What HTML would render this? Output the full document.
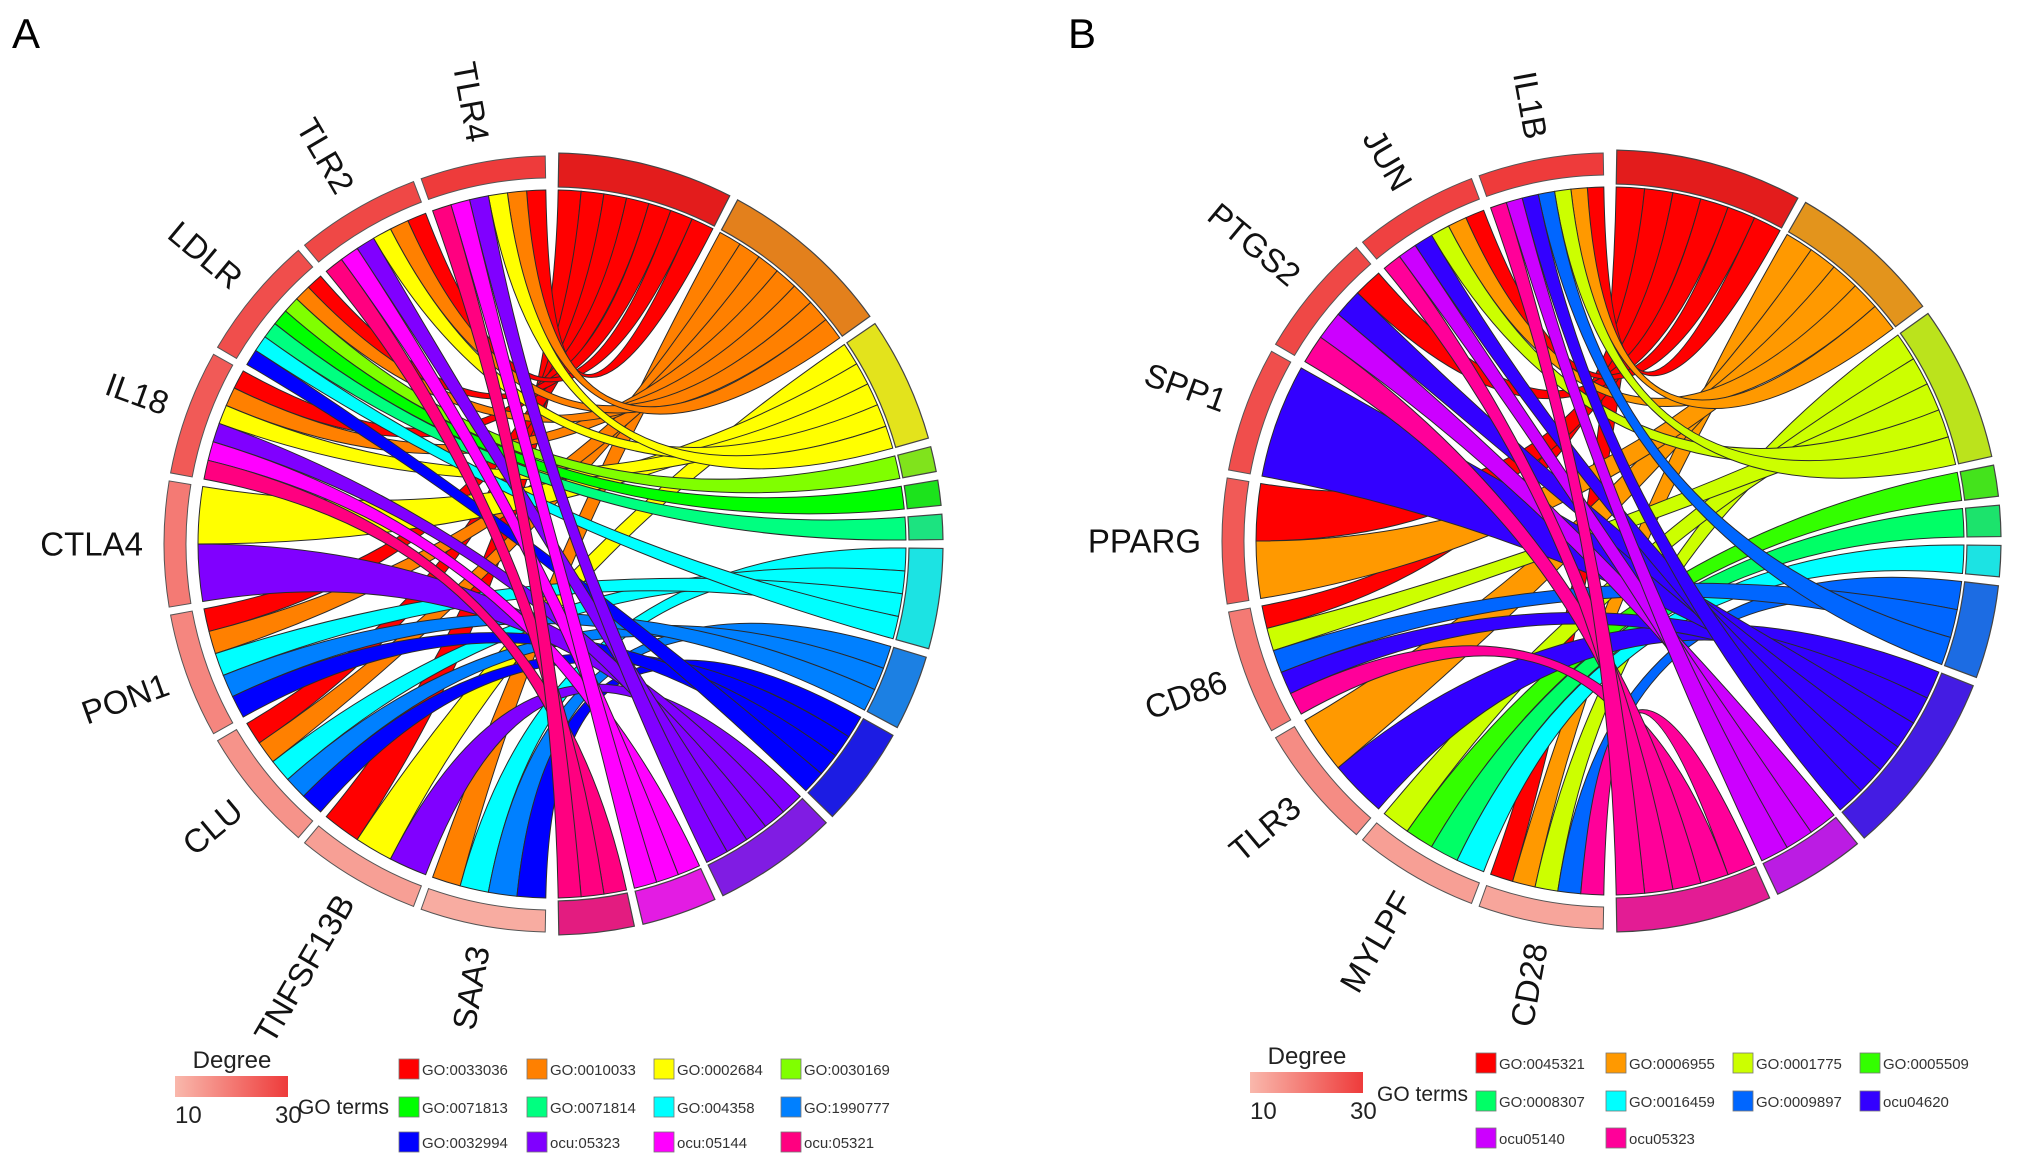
<!DOCTYPE html>
<html><head><meta charset="utf-8"><style>
body{margin:0;background:#fff;}
svg{display:block;font-family:"Liberation Sans",Arial,sans-serif;}
</style></head><body>
<svg id="root" width="2031" height="1168" viewBox="0 0 2031 1168">
<defs><linearGradient id="degGrad" x1="0" x2="1" y1="0" y2="0"><stop offset="0" stop-color="#f9b8ac"/><stop offset="1" stop-color="#ee3b3b"/></linearGradient></defs>
<text x="12" y="48" font-size="42">A</text>
<text x="1068" y="48" font-size="42">B</text>
</svg>
<script>
// Panel A data
const genesA = ["TLR4","TLR2","LDLR","IL18","CTLA4","PON1","CLU","TNFSF13B","SAA3"];
const degreesA = [30,28,27,25,20,18,16,14,12];
const termsA = ["GO:0033036","GO:0010033","GO:0002684","GO:0030169","GO:0071813","GO:0071814","GO:004358","GO:1990777","GO:0032994","ocu:05323","ocu:05144","ocu:05321"];
const colorsA = ["#ff0000","#ff8000","#ffff00","#80ff00","#00ff00","#00ff80","#00ffff","#0080ff","#0000ff","#8000ff","#ff00ff","#ff0080"];
const linksA = [[0,1,2,9,10,11],[0,1,2,9,10,11],[0,1,3,4,5,6,8],[0,1,2,9,10,11],[2,9],[0,1,6,7,8],[0,1,6,7,8],[0,2,9],[1,6,7,8]];
// Panel B data
const genesB = ["IL1B","JUN","PTGS2","SPP1","PPARG","CD86","TLR3","MYLPF","CD28"];
const degreesB = [30,29,28,27,25,20,17,14,13];
const termsB = ["GO:0045321","GO:0006955","GO:0001775","GO:0005509","GO:0008307","GO:0016459","GO:0009897","ocu04620","ocu05140","ocu05323"];
const colorsB = ["#ff0000","#ff9900","#ccff00","#33ff00","#00ff66","#00ffff","#0066ff","#3300ff","#cc00ff","#ff0099"];
const linksB = [[0,1,2,6,7,8,9],[0,1,2,7,8,9],[0,7,8,9],[7],[1,0],[0,2,6,7,9],[1,7],[2,3,4,5],[0,1,2,6,9]];

const NS="http://www.w3.org/2000/svg";
const root=document.getElementById('root');
function mk(tag,attrs,parent){const e=document.createElementNS(NS,tag);for(const k in attrs)e.setAttribute(k,attrs[k]);(parent||root).appendChild(e);return e;}
function hex(c){return [1,3,5].map(i=>parseInt(c.substr(i,2),16));}
function mix(c,g,t){const a=hex(c);return "rgb("+a.map(v=>Math.round(v*t+g*(1-t))).join(",")+")";}
function degColor(d){const t=(d-10)/20;const a=[249,184,172],b=[238,59,59];return "rgb("+a.map((v,i)=>Math.round(v+(b[i]-v)*t)).join(",")+")";}

function chord(cx,cy,genes,degrees,terms,colors,links,prefix){
  const g=mk('g',{});
  
  
  const R=354, tIn=357, tOut=391, gIn=366, gOut=388;
  const P=(a,r)=>[cx+r*Math.cos(a*Math.PI/180), cy-r*Math.sin(a*Math.PI/180)];
  const arcPath=(a1,a2,r1,r2)=>{
    const p1=P(a1,r2),p2=P(a2,r2),p3=P(a2,r1),p4=P(a1,r1);const lg=(a2-a1)>180?1:0;
    return `M${p1}A${r2},${r2} 0 ${lg} 0 ${p2}L${p3}A${r1},${r1} 0 ${lg} 1 ${p4}Z`;
  };
  const gStart=91, gEnd=269, gGap=1.2;
  const gSpan=(gEnd-gStart-gGap*(genes.length-1))/genes.length;
  const gRange=genes.map((n,i)=>[gStart+i*(gSpan+gGap), gStart+i*(gSpan+gGap)+gSpan]);
  const counts=terms.map((t,j)=>links.reduce((s,l)=>s+(l.includes(j)?1:0),0));
  const total=counts.reduce((a,b)=>a+b,0);
  const tStart=89, tEnd=-89, tGap=1.3;
  const unit=(tStart-tEnd-tGap*(terms.length-1))/total;
  let cur=tStart; const tRange=[];
  counts.forEach(c=>{tRange.push([cur,cur-c*unit]);cur-=c*unit+tGap;});
  const tUsed=terms.map(()=>0);
  for(let i=genes.length-1;i>=0;i--){
    const sorted=links[i].slice().sort((a,b)=>a-b);
    const w=gSpan/sorted.length;
    sorted.forEach((j,k)=>{
      const a1=gRange[i][0]+k*w, a2=a1+w;
      const b1=tRange[j][0]-tUsed[j]*unit, b2=b1-unit; tUsed[j]++;
      const pa1=P(a1,R),pa2=P(a2,R),pb1=P(b1,R),pb2=P(b2,R);
      const d=`M${pa1}Q${cx},${cy} ${pb1}A${R},${R} 0 0 1 ${pb2}Q${cx},${cy} ${pa2}A${R},${R} 0 0 1 ${pa1}Z`;
      const p=mk('path',{d:d,fill:colors[j],stroke:'#2a2a2a','stroke-width':1},g);
      
      
    });
  }
  terms.forEach((t,j)=>{
    const p=mk('path',{d:arcPath(tRange[j][1],tRange[j][0],tIn,tOut),fill:mix(colors[j],128,0.78),stroke:'#444','stroke-width':1.2},g);
    
    
  });
  genes.forEach((n,i)=>{
    const p=mk('path',{d:arcPath(gRange[i][0],gRange[i][1],gIn,gOut),fill:degColor(degrees[i]),stroke:'#555','stroke-width':1},g);
    
    
    const m=(gRange[i][0]+gRange[i][1])/2;
    const pt=P(m,409);
    const tx=mk('text',{x:pt[0],y:pt[1],'font-size':33,'text-anchor':'end','dominant-baseline':'central',fill:'#111',transform:`rotate(${-(m+180)} ${pt[0]} ${pt[1]})`},g);
    tx.textContent=n;
    
    
  });
}
chord(552,544,genesA,degreesA,termsA,colorsA,linksA,'a');
chord(1610,541,genesB,degreesB,termsB,colorsB,linksB,'b');

function legend(bx,by,gx,gy,cols,rows,terms,colors,prefix){
  const g=mk('g',{});
  
  
  const t1=mk('text',{x:bx+57,y:by-8,'font-size':24,'text-anchor':'middle',fill:'#222'},g);t1.textContent='Degree';
  
  const r=mk('rect',{x:bx,y:by,width:113,height:21,fill:'url(#degGrad)'},g);
  
  const a=mk('text',{x:bx,y:by+47,'font-size':24,fill:'#222'},g);a.textContent='10';
  
  const b=mk('text',{x:bx+100,y:by+47,'font-size':24,fill:'#222'},g);b.textContent='30';
  
  const gt=mk('text',{x:gx,y:gy,'font-size':21,fill:'#222'},g);gt.textContent='GO terms';
  
  terms.forEach((t,j)=>{
    const x=cols[j%4], y=rows[Math.floor(j/4)];
    const s=mk('rect',{x:x,y:y-10,width:20,height:20,fill:colors[j],stroke:'#777','stroke-width':0.8},g);
    
    const tx=mk('text',{x:x+23,y:y+6,'font-size':15,fill:'#333'},g);tx.textContent=t;
    
  });
}
legend(175,1076,298,1114,[399,527,654,781],[1069,1107,1142],termsA,colorsA,'a');
legend(1250,1072,1377,1101,[1476,1606,1733,1860],[1063,1101,1138],termsB,colorsB,'b');
</script>
</body></html>
